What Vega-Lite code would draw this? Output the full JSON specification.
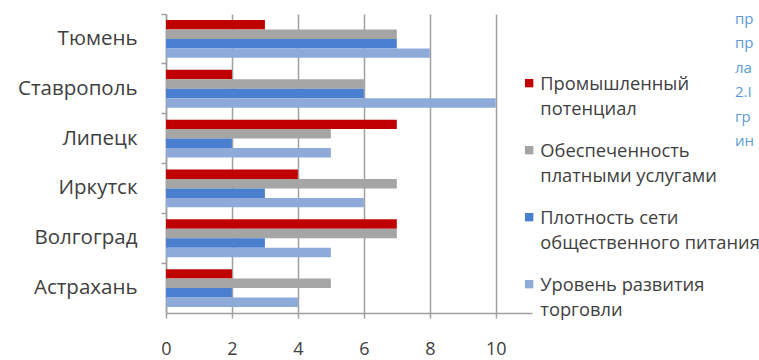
{
  "$schema": "https://vega.github.io/schema/vega-lite/v6.json",
  "width": 366,
  "height": 299,
  "autosize": "none",
  "padding": {"left": 166, "top": 14, "right": 227, "bottom": 47},
  "background": "white",
  "title": {
    "text": ["пр", "пр", "ла", "2.I", "гр", "ин"],
    "orient": "top",
    "anchor": "end",
    "frame": "group",
    "align": "left",
    "baseline": "top",
    "offset": 0,
    "dx": 203,
    "dy": 136,
    "font": "Open Sans",
    "fontSize": 15,
    "fontWeight": "normal",
    "lineHeight": 24.5,
    "color": "#5B9BD5"
  },
  "data": {
    "values": [
      {"city": "Тюмень", "series": "Промышленный потенциал", "value": 3},
      {"city": "Тюмень", "series": "Обеспеченность платными услугами", "value": 7},
      {"city": "Тюмень", "series": "Плотность сети общественного питания", "value": 7},
      {"city": "Тюмень", "series": "Уровень развития торговли", "value": 8},
      {"city": "Ставрополь", "series": "Промышленный потенциал", "value": 2},
      {"city": "Ставрополь", "series": "Обеспеченность платными услугами", "value": 6},
      {"city": "Ставрополь", "series": "Плотность сети общественного питания", "value": 6},
      {"city": "Ставрополь", "series": "Уровень развития торговли", "value": 10},
      {"city": "Липецк", "series": "Промышленный потенциал", "value": 7},
      {"city": "Липецк", "series": "Обеспеченность платными услугами", "value": 5},
      {"city": "Липецк", "series": "Плотность сети общественного питания", "value": 2},
      {"city": "Липецк", "series": "Уровень развития торговли", "value": 5},
      {"city": "Иркутск", "series": "Промышленный потенциал", "value": 4},
      {"city": "Иркутск", "series": "Обеспеченность платными услугами", "value": 7},
      {"city": "Иркутск", "series": "Плотность сети общественного питания", "value": 3},
      {"city": "Иркутск", "series": "Уровень развития торговли", "value": 6},
      {"city": "Волгоград", "series": "Промышленный потенциал", "value": 7},
      {"city": "Волгоград", "series": "Обеспеченность платными услугами", "value": 7},
      {"city": "Волгоград", "series": "Плотность сети общественного питания", "value": 3},
      {"city": "Волгоград", "series": "Уровень развития торговли", "value": 5},
      {"city": "Астрахань", "series": "Промышленный потенциал", "value": 2},
      {"city": "Астрахань", "series": "Обеспеченность платными услугами", "value": 5},
      {"city": "Астрахань", "series": "Плотность сети общественного питания", "value": 2},
      {"city": "Астрахань", "series": "Уровень развития торговли", "value": 4}
    ]
  },
  "mark": {"type": "bar", "cornerRadius": 0},
  "encoding": {
    "y": {
      "field": "city",
      "type": "nominal",
      "sort": ["Тюмень", "Ставрополь", "Липецк", "Иркутск", "Волгоград", "Астрахань"],
      "scale": {"paddingInner": 0, "paddingOuter": 0},
      "axis": {
        "title": null,
        "bandPosition": 0,
        "labelOffset": 7,
        "domainColor": "#A0A0A0",
        "domainWidth": 1.5,
        "tickColor": "#A0A0A0",
        "tickWidth": 1.5,
        "tickSize": 5,
        "labelPadding": 24,
        "labelFont": "Open Sans",
        "labelFontSize": 20.5,
        "labelColor": "#404040",
        "grid": false
      }
    },
    "x": {
      "field": "value",
      "type": "quantitative",
      "scale": {"domain": [0, 11.1], "nice": false},
      "axis": {
        "title": null,
        "values": [0, 2, 4, 6, 8, 10],
        "grid": true,
        "gridColor": "#A0A0A0",
        "gridWidth": 1.5,
        "domainColor": "#A0A0A0",
        "domainWidth": 1.5,
        "tickColor": "#A0A0A0",
        "tickWidth": 1.5,
        "tickSize": 5,
        "labelPadding": 29,
        "labelFont": "Open Sans",
        "labelFontSize": 18,
        "labelColor": "#404040",
        "labelFlush": false
      }
    },
    "yOffset": {
      "field": "series",
      "type": "nominal",
      "sort": ["Промышленный потенциал", "Обеспеченность платными услугами", "Плотность сети общественного питания", "Уровень развития торговли"],
      "scale": {"paddingInner": 0, "paddingOuter": 0.63}
    },
    "color": {
      "field": "series",
      "type": "nominal",
      "sort": ["Промышленный потенциал", "Обеспеченность платными услугами", "Плотность сети общественного питания", "Уровень развития торговли"],
      "scale": {"range": ["#C00000", "#A5A5A5", "#4A7FCF", "#8DAAD9"]},
      "legend": {
        "title": null,
        "orient": "none",
        "legendX": 354,
        "legendY": 60,
        "symbolType": "square",
        "symbolSize": 70,
        "symbolStrokeWidth": 0,
        "symbolOffset": 0,
        "labelOffset": 2,
        "labelFont": "Open Sans",
        "labelFontSize": 18.3,
        "labelColor": "#404040",
        "labelLimit": 300,
        "labelBaseline": "top",
        "rowPadding": 23,
        "labelExpr": "datum.label === 'Промышленный потенциал' ? ['Промышленный', 'потенциал'] : datum.label === 'Обеспеченность платными услугами' ? ['Обеспеченность', 'платными услугами'] : datum.label === 'Плотность сети общественного питания' ? ['Плотность сети', 'общественного питания'] : ['Уровень развития', 'торговли']"
      }
    }
  },
  "config": {
    "view": {"stroke": null},
    "style": {"guide-label": {"lineHeight": 24.5, "dy": -7}}
  }
}
